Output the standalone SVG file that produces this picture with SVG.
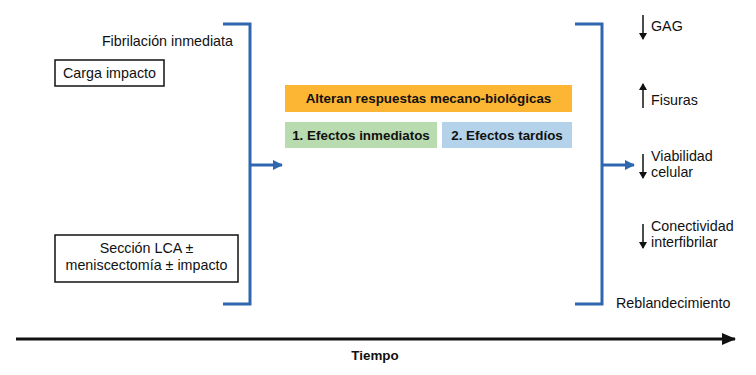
<svg xmlns="http://www.w3.org/2000/svg" width="756" height="375" viewBox="0 0 756 375">
<defs>
<style>
text{font-family:"Liberation Sans",Arial,sans-serif;font-size:14.3px;fill:#111}
.b{font-weight:bold;font-size:13.4px}
.box{fill:#fff;stroke:#111;stroke-width:1.5}
.br{fill:none;stroke:#2E67AF;stroke-width:3}
.ind{stroke:#111;stroke-width:1.5}
</style>
<marker id="ab" markerWidth="10" markerHeight="10" refX="9" refY="5" orient="auto" markerUnits="userSpaceOnUse"><path d="M0,0 L10,5 L0,10 Z" fill="#2E67AF"/></marker>
<marker id="ak" markerWidth="7" markerHeight="8" refX="6" refY="4" orient="auto" markerUnits="userSpaceOnUse"><path d="M0,0 L7,4 L0,8 Z" fill="#111"/></marker>
<marker id="at" markerWidth="14" markerHeight="12" refX="13" refY="6" orient="auto" markerUnits="userSpaceOnUse"><path d="M0,0 L14,6 L0,12 Z" fill="#111"/></marker>
</defs>
<g id="connectors">
<path class="br" d="M223,24 H250 V304 H223"/>
<line class="br" x1="250" y1="165" x2="282" y2="165" marker-end="url(#ab)"/>
<path class="br" d="M575,24 H602 V304 H575"/>
<line class="br" x1="602" y1="165" x2="634" y2="165" marker-end="url(#ab)"/>
<line x1="16" y1="339" x2="735" y2="339" stroke="#111" stroke-width="3" marker-end="url(#at)"/>
</g>
<g id="fibrilacion"><text x="233" y="46" text-anchor="end">Fibrilación inmediata</text></g>
<g id="carga"><rect class="box" x="55" y="60" width="109" height="26"/><text x="109.5" y="78" text-anchor="middle">Carga impacto</text></g>
<g id="seccion"><rect class="box" x="55" y="235" width="183" height="47"/><text x="146.5" y="253" text-anchor="middle">Sección LCA ±</text><text x="146.5" y="270" text-anchor="middle">meniscectomía ± impacto</text></g>
<g id="alteran"><rect x="285" y="85" width="287" height="27" fill="#FDB534"/><text class="b" x="428.5" y="103" text-anchor="middle">Alteran respuestas mecano-biológicas</text></g>
<g id="inmediatos"><rect x="285" y="122" width="152" height="26" fill="#B9DBB0"/><text class="b" x="361" y="140" text-anchor="middle">1. Efectos inmediatos</text></g>
<g id="tardios"><rect x="442" y="122" width="130" height="26" fill="#B4D3EA"/><text class="b" x="507" y="140" text-anchor="middle">2. Efectos tardíos</text></g>
<g id="gag"><line class="ind" x1="643" y1="15" x2="643" y2="39" marker-end="url(#ak)"/><text x="651" y="31">GAG</text></g>
<g id="fisuras"><line class="ind" x1="643" y1="108" x2="643" y2="84" marker-end="url(#ak)"/><text x="651" y="105">Fisuras</text></g>
<g id="viabilidad"><line class="ind" x1="643" y1="154" x2="643" y2="178" marker-end="url(#ak)"/><text x="651" y="161">Viabilidad</text><text x="651" y="177">celular</text></g>
<g id="conectividad"><line class="ind" x1="643" y1="224" x2="643" y2="248" marker-end="url(#ak)"/><text x="651" y="231">Conectividad</text><text x="651" y="247">interfibrilar</text></g>
<g id="reblandecimiento"><text x="616" y="308">Reblandecimiento</text></g>
<g id="tiempo"><text class="b" x="375" y="360" text-anchor="middle">Tiempo</text></g>
</svg>
